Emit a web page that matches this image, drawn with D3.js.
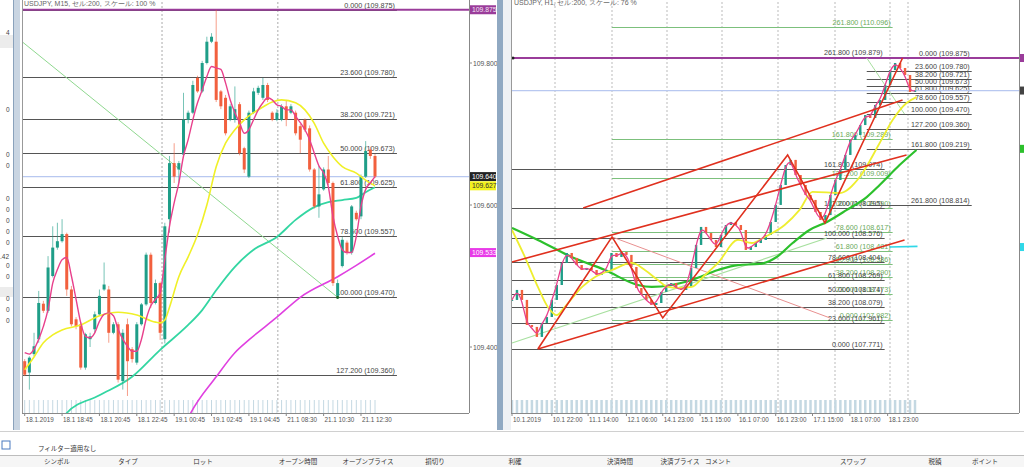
<!DOCTYPE html>
<html><head><meta charset="utf-8">
<script src="https://cdn.jsdelivr.net/npm/d3@7"></script>
<style>body{margin:0;background:#fff;overflow:hidden}svg{display:block;font-family:"Liberation Sans",Arial,sans-serif}</style>
</head><body><svg id="c" width="1024" height="467"></svg>
<script>
// ---------- LEFT CHART (USDJPY M15) ----------
const leftOpen  = [109.380,109.364,109.390,109.411,109.461,109.451,109.500,109.540,109.549,109.559,109.481,109.439,109.432,109.371,109.411,109.425,109.446,109.481,109.481,109.420,109.432,109.352,109.432,109.397,109.378,109.432,109.460,109.530,109.462,109.490,109.411,109.580,109.659,109.650,109.671,109.720,109.730,109.779,109.760,109.800,109.830,109.830,109.760,109.751,109.720,109.720,109.742,109.680,109.640,109.730,109.758,109.751,109.769,109.730,109.720,109.720,109.739,109.730,109.730,109.711,109.720,109.708,109.650,109.598,109.622,109.650,109.631,109.472,109.514,109.547,109.533,109.589,109.584,109.640,109.678,109.669];
const leftHigh  = [109.383,109.387,109.420,109.479,109.465,109.528,109.570,109.575,109.580,109.561,109.486,109.442,109.435,109.420,109.420,109.450,109.481,109.519,109.486,109.435,109.435,109.425,109.440,109.400,109.435,109.462,109.533,109.533,109.495,109.492,109.575,109.669,109.687,109.662,109.758,109.733,109.775,109.782,109.803,109.837,109.842,109.875,109.762,109.755,109.742,109.767,109.745,109.682,109.733,109.765,109.768,109.779,109.772,109.732,109.735,109.742,109.748,109.742,109.733,109.714,109.722,109.712,109.652,109.655,109.653,109.669,109.633,109.495,109.555,109.550,109.600,109.592,109.643,109.690,109.682,109.672];
const leftLow   = [109.359,109.340,109.387,109.406,109.448,109.448,109.498,109.537,109.547,109.472,109.429,109.425,109.368,109.368,109.400,109.420,109.444,109.479,109.406,109.418,109.350,109.340,109.331,109.378,109.375,109.430,109.458,109.455,109.460,109.410,109.405,109.561,109.631,109.631,109.669,109.715,109.728,109.758,109.758,109.798,109.828,109.745,109.735,109.698,109.718,109.716,109.670,109.645,109.638,109.728,109.755,109.748,109.745,109.718,109.718,109.718,109.711,109.728,109.698,109.673,109.703,109.647,109.595,109.582,109.620,109.628,109.486,109.470,109.512,109.530,109.530,109.578,109.580,109.638,109.665,109.638];
const leftClose = [109.361,109.385,109.401,109.462,109.451,109.512,109.540,109.549,109.559,109.481,109.432,109.429,109.371,109.418,109.415,109.446,109.472,109.488,109.420,109.432,109.354,109.420,109.380,109.383,109.432,109.460,109.530,109.462,109.490,109.420,109.570,109.659,109.640,109.659,109.720,109.730,109.769,109.760,109.800,109.830,109.837,109.748,109.739,109.701,109.739,109.735,109.673,109.650,109.730,109.760,109.765,109.769,109.748,109.720,109.730,109.739,109.720,109.739,109.701,109.692,109.706,109.650,109.598,109.615,109.650,109.631,109.490,109.490,109.551,109.533,109.598,109.580,109.640,109.676,109.669,109.640];
const leftPinkMA = [109.392,109.390,109.397,109.411,109.429,109.453,109.490,109.509,109.523,109.526,109.500,109.467,109.434,109.415,109.413,109.420,109.436,109.446,109.448,109.444,109.425,109.411,109.401,109.394,109.394,109.411,109.439,109.458,109.467,109.476,109.523,109.570,109.603,109.631,109.669,109.692,109.720,109.744,109.762,109.781,109.795,109.793,109.791,109.772,109.748,109.730,109.716,109.701,109.706,109.720,109.734,109.744,109.751,109.748,109.741,109.739,109.734,109.734,109.725,109.716,109.706,109.692,109.673,109.655,109.645,109.626,109.584,109.556,109.537,109.533,109.533,109.556,109.598,109.622,109.631,109.640];
const leftYellowIdx = [0,2,4,6,8,12,16,20,24,28,29,30,31,33,35,37,39,41,43,45,47,49,51,53,55,58,60,62,64,66,68,71,73,75];
const leftYellowMA  = [109.368,109.386,109.406,109.417,109.424,109.431,109.444,109.449,109.445,109.435,109.434,109.438,109.456,109.499,109.527,109.558,109.600,109.654,109.687,109.706,109.720,109.730,109.738,109.745,109.748,109.744,109.734,109.715,109.687,109.668,109.654,109.645,109.635,109.627];
const leftTealIdx = [5,9,16,23,29,35,38,41,45,49,54,58,62,65,68,71,73,75];
const leftTealMA  = [109.26,109.307,109.332,109.358,109.396,109.431,109.452,109.480,109.513,109.537,109.555,109.579,109.597,109.604,109.607,109.610,109.618,109.625];
const leftMagIdx = [33,35,41,45,48,54,59,67,71,75];
const leftMagMA  = [109.27,109.300,109.358,109.392,109.410,109.442,109.470,109.499,109.515,109.532];
const leftFibLevels = ["0.000","23.600","38.200","50.000","61.800","78.600","100.000","127.200"];
const leftFibPrices = [109.875,109.780,109.721,109.673,109.625,109.557,109.470,109.360];
const leftTicks = [109.400,109.600,109.800];
const leftXLabels = ["18.1.2019","18.1 18:45","18.1 20:45","18.1 22:45","19.1 00:45","19.1 02:45","19.1 04:45","21.1 08:30","21.1 10:30","21.1 12:30"];
const leftXLabelIdx = [0,8,16,24,32,40,48,56,64,72];
const leftTrend = [[-9,109.875],[67,109.470]];
const leftMarkers = [{p:109.875,t:"109.875",bg:"#9a3c9a",fg:"#f4e4f4"},{p:109.640,t:"109.640",bg:"#222",fg:"#fff"},{p:109.627,t:"109.627",bg:"#f2f21e",fg:"#333"},{p:109.533,t:"109.533",bg:"#e83ae8",fg:"#fff"}];

// ---------- RIGHT CHART (USDJPY H1) ----------
const rightClose = [108.128,108.200,108.128,107.947,107.933,107.861,107.962,108.005,108.128,108.236,108.395,108.467,108.431,108.380,108.344,108.359,108.344,108.308,108.323,108.344,108.467,108.438,108.474,108.453,108.366,108.214,108.164,108.128,108.092,108.106,108.186,108.229,108.250,108.214,108.200,108.221,108.359,108.525,108.655,108.611,108.561,108.510,108.597,108.669,108.691,108.669,108.633,108.489,108.510,108.539,108.561,108.597,108.691,108.814,108.958,109.102,109.139,109.030,108.958,108.886,108.850,108.763,108.705,108.741,108.886,108.994,109.066,109.175,109.283,109.319,109.391,109.463,109.442,109.536,109.572,109.680,109.788,109.839,109.803,109.752,109.630,109.640];
const rightGreenIdx = [0,5.2,12,18.7,25.3,28.1,32.1,36.1,41.4,45.4,49.8,53.2,56.4,59.8,63.3,67.3,71.3,73.9,77.9,81.3];
const rightGreenMA  = [108.648,108.561,108.438,108.344,108.236,108.222,108.236,108.272,108.344,108.380,108.388,108.438,108.539,108.633,108.691,108.778,108.871,108.958,109.102,109.211];
const rightYellowIdx = [0,2.6,5.2,7.2,9,10.6,14.1,16.7,20.1,24.1,26.7,29.3,31.3,33.3,36.1,38.8,41.4,45.4,48.2,50.8,54.8,57.8,60.4,65.9,69.9,73.9,76.5,79.3,81.3];
const rightYellowMA  = [108.633,108.438,108.222,108.077,108.019,108.077,108.222,108.294,108.344,108.395,108.344,108.272,108.222,108.214,108.222,108.308,108.395,108.561,108.539,108.583,108.669,108.778,108.908,108.900,109.016,109.261,109.427,109.550,109.593];
const fibLevels = ["0.000","23.600","38.200","50.000","61.800","78.600","100.000","127.200","161.800","261.800"];
const fibAPrices = [109.875,109.780,109.721,109.673,109.625,109.557,109.470,109.360,109.219,108.814];
const fibBPrices = [107.771,107.961,108.079,108.174,108.269,108.404,108.576,108.795,109.074,109.879];
const fibCPrices = [107.982,108.173,108.290,108.386,108.481,108.617,108.790,109.009,109.289,110.096];
const rightRedLines = [
  [[14.3,108.792],[78.5,109.572]],
  [[0,108.402],[79.3,109.175]],
  [[5.2,107.774],[78.9,108.561]],
  [[5.2,107.774],[20.1,108.583],[30.3,107.998],[55.4,109.175],[62.9,108.684],[78.5,109.875]]
];
const rightThinPink = [[20.1,108.583],[63.9,107.998]];
const rightThinGreen = [[0,107.817],[63.3,108.575]];
const rightFibADiag = [[71.3,109.875],[78.9,109.470]];
const rightCyan = [[75.9,108.51],[81.5,108.515]];
const rightXLabels = ["10.1.2019","10.1 22:00","11.1 14:00","12.1 06:00","14.1 23:00","15.1 15:00","16.1 07:00","16.1 23:00","17.1 15:00","18.1 07:00","18.1 23:00"];
const rightXLabelIdx = [0,8,15.3,23,30.3,37.8,45.4,53,60.4,67.9,75.5];

// ---------- TERMINAL ----------
const termCols = ["シンボル","タイプ","ロット","オープン時間","オープンプライス","損切り","利確","決済時間","決済プライス","コメント","スワップ","税額","ポイント"];
const termColX = [57,128,203,298,368,435,515,620,680,718,853,935,985];

const BULL="#1f9e88", BEAR="#f2603e";
const svg = d3.select("#c");
svg.append("rect").attr("width",1024).attr("height",467).attr("fill","#fff");

function line(g,pts,x,y,color,w,op,dash){
  g.append("path").attr("d",d3.line().x(d=>x(d[0])).y(d=>y(d[1]))(pts))
   .attr("fill","none").attr("stroke",color).attr("stroke-width",w).attr("opacity",op||1)
   .attr("stroke-dasharray",dash||null);
}
function fib(g,x,y,levels,prices,i0,i1,color,lc){
  prices.forEach((p,i)=>{
    g.append("line").attr("x1",x(i0)).attr("x2",x(i1)).attr("y1",Math.round(y(p))+0.5).attr("y2",Math.round(y(p))+0.5)
      .attr("stroke",color).attr("stroke-width",1);
    g.append("text").attr("x",x(i1)-2).attr("y",y(p)-2).attr("text-anchor","end")
      .attr("font-size",7.2).attr("fill",lc).text(`${levels[i]} (${p.toFixed(3)})`);
  });
}
function candles(g,x,y,o,h,l,c,w){
  o.forEach((ov,i)=>{
    const col = c[i]>=ov?BULL:BEAR;
    g.append("line").attr("x1",x(i)).attr("x2",x(i)).attr("y1",y(h[i])).attr("y2",y(l[i]))
      .attr("stroke",col).attr("stroke-width",1).attr("opacity",0.6);
    const t=y(Math.max(ov,c[i])), b=y(Math.min(ov,c[i]));
    g.append("rect").attr("x",x(i)-w/2).attr("y",t).attr("width",w).attr("height",Math.max(1,b-t)).attr("fill",col);
  });
}

// ===== Left window =====
const xL = d3.scaleLinear().domain([0,75]).range([24.7,375]);
const yL = d3.scaleLinear().domain([109.3,109.9]).range([418,-8]);
svg.append("clipPath").attr("id","cl").append("rect").attr("x",22).attr("y",2).attr("width",447).attr("height",411);
const gL = svg.append("g").attr("clip-path","url(#cl)");
// separators
[29.4,54.2].forEach(v=>gL.append("line").attr("x1",xL(v)).attr("x2",xL(v)).attr("y1",2).attr("y2",413)
  .attr("stroke","#aaa").attr("stroke-dasharray","2,2"));
// fib
fib(gL,xL,yL,leftFibLevels,leftFibPrices,-10,79.7,"#555","#444");
// bid line
gL.append("line").attr("x1",22).attr("x2",469).attr("y1",yL(109.640)).attr("y2",yL(109.640)).attr("stroke","#b8c8f0").attr("stroke-width",1.2);
// purple top line
gL.append("line").attr("x1",22).attr("x2",469).attr("y1",yL(109.875)).attr("y2",yL(109.875)).attr("stroke","#9a3c9a").attr("stroke-width",2);
// trend
line(gL,leftTrend,xL,yL,"#8fd88f",1);
// volume ticks
leftClose.forEach((c,i)=>gL.append("line").attr("x1",xL(i)).attr("x2",xL(i)).attr("y1",400).attr("y2",413).attr("stroke","#c4d8e2").attr("stroke-width",1));
// MAs under candles
const cb = d3.curveMonotoneX;
function ma(g,idx,vals,x,y,color,w){
  g.append("path").attr("d",d3.line().curve(cb).x((d,i)=>x(idx[i])).y(d=>y(d))(vals))
   .attr("fill","none").attr("stroke",color).attr("stroke-width",w);
}
ma(gL,leftMagIdx,leftMagMA,xL,yL,"#e040e0",1.6);
ma(gL,leftTealIdx,leftTealMA,xL,yL,"#33d6a2",1.8);
candles(gL,xL,yL,leftOpen,leftHigh,leftLow,leftClose,3);
ma(gL,leftYellowIdx,leftYellowMA,xL,yL,"#f0f028",1.6);
ma(gL,leftPinkMA.map((d,i)=>i),leftPinkMA,xL,yL,"#e8408c",1.4);
gL.append("circle").attr("cx",xL(67)).attr("cy",yL(109.470)).attr("r",1.6).attr("fill","#1a6a2a");
// frame
svg.append("line").attr("x1",22.5).attr("x2",22.5).attr("y1",0).attr("y2",413).attr("stroke","#999");
svg.append("line").attr("x1",22).attr("x2",469).attr("y1",413.5).attr("y2",413.5).attr("stroke","#888");
svg.append("line").attr("x1",469.5).attr("x2",469.5).attr("y1",0).attr("y2",413).attr("stroke","#888");
svg.append("text").attr("x",24).attr("y",6).attr("font-size",7).attr("fill","#666").text("USDJPY, M15, セル:200, スケール: 100 %");
// price axis
leftTicks.forEach(t=>{
  svg.append("line").attr("x1",469).attr("x2",472).attr("y1",yL(t)).attr("y2",yL(t)).attr("stroke","#888");
  svg.append("text").attr("x",473).attr("y",yL(t)+2.5).attr("font-size",6.8).attr("fill","#555").text(t.toFixed(3));
});
leftMarkers.forEach(m=>{
  svg.append("rect").attr("x",470).attr("y",yL(m.p)-4.5).attr("width",26).attr("height",9).attr("fill",m.bg);
  svg.append("text").attr("x",472).attr("y",yL(m.p)+2.5).attr("font-size",6.8).attr("fill",m.fg).text(m.t);
});
leftXLabels.forEach((t,i)=>{
  svg.append("line").attr("x1",xL(leftXLabelIdx[i])).attr("x2",xL(leftXLabelIdx[i])).attr("y1",413).attr("y2",416).attr("stroke","#888");
  svg.append("text").attr("x",xL(leftXLabelIdx[i])+1).attr("y",422).attr("font-size",6.3).attr("fill","#555").text(t);
});

// ===== Right window =====
const xR = d3.scaleLinear().domain([0,81]).range([512,915]);
const yR = d3.scaleLinear().domain([107.5,110.2]).range([386.9,13.0]);
svg.append("clipPath").attr("id","cr").append("rect").attr("x",511).attr("y",2).attr("width",508).attr("height",411);
const gR = svg.append("g").attr("clip-path","url(#cr)");
[555,612,667,722,778,835,890,908].forEach(v=>gR.append("line").attr("x1",v).attr("x2",v).attr("y1",2).attr("y2",413)
  .attr("stroke","#bbb").attr("stroke-dasharray","2,2"));
fib(gR,xR,yR,fibLevels,fibCPrices,20.1,76.5,"#7cc07c","#6aaa5a");
fib(gR,xR,yR,fibLevels,fibBPrices,0,74.9,"#555","#444");
fib(gR,xR,yR,fibLevels,fibAPrices,71.3,92.4,"#555","#444");
gR.append("line").attr("x1",511).attr("x2",1019).attr("y1",yR(109.640)).attr("y2",yR(109.640)).attr("stroke","#b8c8f0").attr("stroke-width",1.2);
gR.append("line").attr("x1",511).attr("x2",1019).attr("y1",yR(109.875)).attr("y2",yR(109.875)).attr("stroke","#9a3c9a").attr("stroke-width",2);
gR.append("circle").attr("cx",513).attr("cy",yR(109.875)).attr("r",1.5).attr("fill","#222");
rightClose.forEach((c,i)=>gR.append("line").attr("x1",xR(i)).attr("x2",xR(i)).attr("y1",400).attr("y2",413).attr("stroke","#c4d8e2").attr("stroke-width",2.5));
line(gR,rightThinGreen,xR,yR,"#a8e0a0",1.2);
line(gR,rightFibADiag,xR,yR,"#a8e0a0",1);
line(gR,rightThinPink,xR,yR,"#e89090",1);
ma(gR,rightGreenIdx,rightGreenMA,xR,yR,"#2cc02c",2.2);
const rOpen = rightClose.map((c,i)=>i?rightClose[i-1]:c);
candles(gR,xR,yR,rOpen,rOpen.map((o,i)=>Math.max(o,rightClose[i])),rOpen.map((o,i)=>Math.min(o,rightClose[i])),rightClose,2.4);
ma(gR,rightYellowIdx,rightYellowMA,xR,yR,"#eeee30",1.8);
gR.append("path").attr("d",d3.line().curve(d3.curveBasis).x((d,i)=>xR(i)).y(d=>yR(d))(rightClose))
  .attr("fill","none").attr("stroke","#e8408c").attr("stroke-width",1.3);
rightRedLines.forEach(l=>line(gR,l,xR,yR,"#e0301e",1.6));
line(gR,rightCyan,xR,yR,"#30d8e8",1.6);
svg.append("line").attr("x1",511.5).attr("x2",511.5).attr("y1",0).attr("y2",413).attr("stroke","#999");
svg.append("line").attr("x1",511).attr("x2",1019).attr("y1",413.5).attr("y2",413.5).attr("stroke","#888");
svg.append("line").attr("x1",1019.5).attr("x2",1019.5).attr("y1",0).attr("y2",413).attr("stroke","#888");
svg.append("text").attr("x",514).attr("y",5).attr("font-size",7).attr("fill","#666").text("USDJPY, H1, セル:200, スケール: 76 %");
[[109.875,"#9a3c9a"],[109.640,"#444"],[109.219,"#2cc02c"],[108.51,"#30d8e8"]].forEach(m=>
  svg.append("rect").attr("x",1020).attr("y",yR(m[0])-4).attr("width",4).attr("height",8).attr("fill",m[1]));
rightXLabels.forEach((t,i)=>{
  svg.append("line").attr("x1",xR(rightXLabelIdx[i])).attr("x2",xR(rightXLabelIdx[i])).attr("y1",413).attr("y2",416).attr("stroke","#888");
  svg.append("text").attr("x",xR(rightXLabelIdx[i])+1).attr("y",422).attr("font-size",6.3).attr("fill","#555").text(t);
});

// ===== window chrome =====
svg.append("rect").attr("x",13).attr("y",0).attr("width",7).attr("height",430).attr("fill","#c9d5e2");
svg.append("line").attr("x1",13.5).attr("x2",13.5).attr("y1",0).attr("y2",430).attr("stroke","#8aa2bc");
svg.append("rect").attr("x",497).attr("y",0).attr("width",6).attr("height",430).attr("fill","#90a9c2");
svg.append("rect").attr("x",503).attr("y",0).attr("width",8).attr("height",430).attr("fill","#eef1f4");
svg.append("rect").attr("x",0).attr("y",35).attr("width",13).attr("height",13).attr("fill","#ececec");
svg.append("rect").attr("x",0).attr("y",287).attr("width",13).attr("height",10).attr("fill","#ececec");
[["4",35],["0",112],["0",157],["0",168],["0",201],["0",212],["0",223],["0",234],["0",245],[".42",259],["0",268],["0",279],["0",301],["0",312],["0",323]]
  .forEach(d=>svg.append("text").attr("x",d[0].length>1?0:6).attr("y",d[1]).attr("font-size",6.5).attr("fill","#444").text(d[0]));
svg.append("line").attr("x1",0).attr("x2",1024).attr("y1",431.5).attr("y2",431.5).attr("stroke","#d0d0d0");
svg.append("rect").attr("x",2).attr("y",441).attr("width",8).attr("height",8).attr("fill","none").attr("stroke","#4a7ac0");
svg.append("text").attr("x",38).attr("y",451).attr("font-size",6.5).attr("fill","#333").attr("font-family","Noto Sans CJK JP").text("フィルター適用なし");
svg.append("rect").attr("x",0).attr("y",455).attr("width",1024).attr("height",12).attr("fill","#f6f6f6");
svg.append("line").attr("x1",0).attr("x2",1024).attr("y1",455.5).attr("y2",455.5).attr("stroke","#bdbdbd");
termCols.forEach((t,i)=>svg.append("text").attr("x",termColX[i]).attr("y",463.5).attr("text-anchor","middle")
  .attr("font-size",6.5).attr("fill","#333").attr("font-family","Noto Sans CJK JP").text(t));
</script></body></html>
